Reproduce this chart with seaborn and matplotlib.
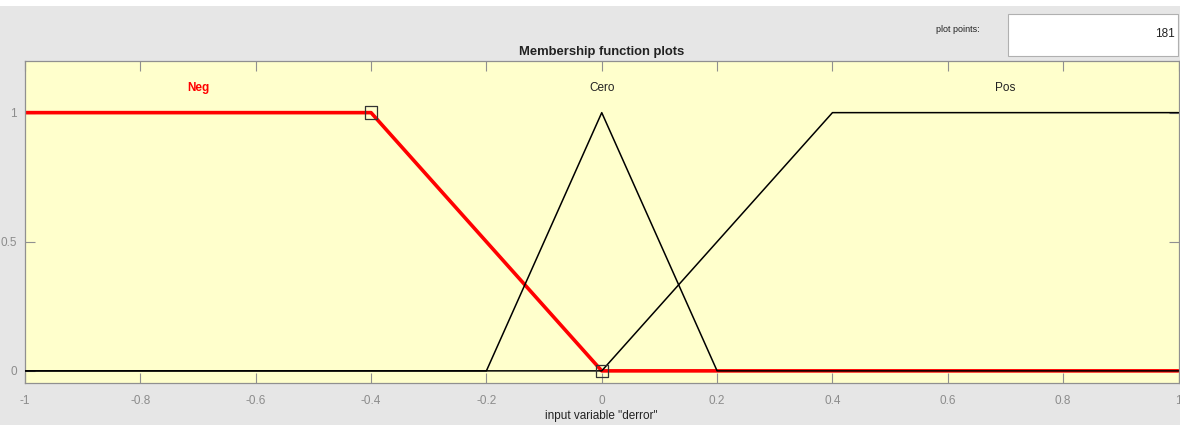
import matplotlib
matplotlib.use("Agg")
import matplotlib.pyplot as plt
import seaborn as sns
import pandas as pd
from matplotlib.patches import Rectangle

# Data
neg_x = [-1.0, -0.4, 0.0, 1.0]
neg_y = [1.0, 1.0, 0.0, 0.0]
cero_x = [-1.0, -0.2, 0.0, 0.2, 1.0]
cero_y = [0.0, 0.0, 1.0, 0.0, 0.0]
pos_x = [-1.0, 0.0, 0.4, 1.0]
pos_y = [0.0, 0.0, 1.0, 1.0]
handle_x = [-0.4, 0.0]
handle_y = [1.0, 0.0]
mf_names = ["Neg", "Cero", "Pos"]
mf_label_x = [-0.7, 0.0, 0.7]
xticks = [-1, -0.8, -0.6, -0.4, -0.2, 0, 0.2, 0.4, 0.6, 0.8, 1]
xticklabels = ["-1", "-0.8", "-0.6", "-0.4", "-0.2", "0", "0.2", "0.4", "0.6", "0.8", "1"]
yticks = [0, 0.5, 1]
yticklabels = ["0", "0.5", "1"]

sns.set_style("ticks")
plt.rcParams["font.family"] = ["Liberation Sans", "DejaVu Sans"]

fig = plt.figure(figsize=(11.8, 4.25), dpi=100)
fig.patch.set_facecolor("#e6e6e6")
ax = fig.add_axes([25 / 1180, 42 / 425, 1153.5 / 1180, 322 / 425])
ax.set_facecolor("#ffffcc")

df_cero = pd.DataFrame({"x": cero_x, "y": cero_y})
df_pos = pd.DataFrame({"x": pos_x, "y": pos_y})
df_neg = pd.DataFrame({"x": neg_x, "y": neg_y})
df_h = pd.DataFrame({"x": handle_x, "y": handle_y})

sns.lineplot(data=df_neg, x="x", y="y", ax=ax, color="#ff0000", lw=2.6, sort=False,
             estimator=None, zorder=2)
sns.lineplot(data=df_cero, x="x", y="y", ax=ax, color="black", lw=1.1, sort=False,
             estimator=None, zorder=3)
sns.lineplot(data=df_pos, x="x", y="y", ax=ax, color="black", lw=1.1, sort=False,
             estimator=None, zorder=3)
sns.scatterplot(data=df_h, x="x", y="y", ax=ax, marker="s", s=80, facecolor="none",
                edgecolor="#333333", linewidth=0.9, zorder=5)

for name, lx in zip(mf_names, mf_label_x):
    if name == "Neg":
        ax.text(lx, 1.095, name, color="#ff0000", fontweight="bold", fontsize=8.5,
                ha="center", va="center")
    else:
        ax.text(lx, 1.095, name, color="#222222", fontsize=8.5, ha="center", va="center")

ax.set_xlim(-1, 1)
ax.set_ylim(-0.047, 1.2)
ax.set_xticks(xticks)
ax.set_xticklabels(xticklabels)
ax.set_yticks(yticks)
ax.set_yticklabels(yticklabels)
ax.tick_params(direction="in", length=7.5, width=0.8, color="#909090", labelcolor="#8c8c8c",
               labelsize=8.5, top=True, right=True, pad=6)
ax.tick_params(axis="x", pad=9)
for sp in ax.spines.values():
    sp.set_visible(True)
    sp.set_color("#909090")
    sp.set_linewidth(0.9)

ax.set_xlabel('input variable "derror"', fontsize=8.5, color="#222222", labelpad=2)
ax.set_ylabel("")
ax.set_title("Membership function plots", fontsize=9.4, fontweight="bold", color="#222222", pad=4)

# top white strip
fig.patches.append(Rectangle((0, 419 / 425), 1, 6 / 425, transform=fig.transFigure,
                             facecolor="white", edgecolor="none", zorder=0))
# plot points box
fig.patches.append(Rectangle((1008 / 1180, 369 / 425), 170 / 1180, 42 / 425,
                             transform=fig.transFigure, facecolor="white",
                             edgecolor="#b0b0b0", linewidth=0.8))
fig.text(958 / 1180, 1 - 29 / 425, "plot points:", fontsize=6.5, color="#222222",
         ha="center", va="center")
fig.text(1175 / 1180, 1 - 34 / 425, "181", fontsize=8.5, color="#222222",
         ha="right", va="center")

fig.savefig("out.png", dpi=100, facecolor=fig.get_facecolor())
